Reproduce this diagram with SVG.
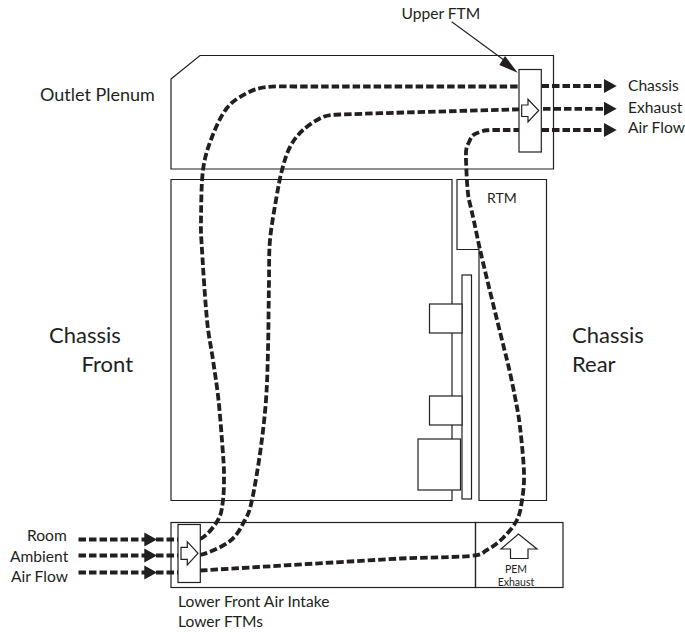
<svg xmlns="http://www.w3.org/2000/svg" width="685" height="632" viewBox="0 0 685 632">
<style>
.s{fill:none;stroke:#231f20;stroke-width:1.2}
.w{fill:#fff;stroke:#231f20;stroke-width:1.2}
.f{fill:none;stroke:#231f20;stroke-width:3.8;stroke-dasharray:7.500 3}
.h{fill:#231f20}
text{font-family:Lato,"Noto Sans",sans-serif;fill:#231f20;font-size:15.600px}
.b{font-size:22px}
.m{font-size:18px}
.r{font-size:14px}
.t{font-size:10.500px}
</style>
<rect width="685" height="632" fill="#fff"/>
<g id="outlet-plenum"><path class="s" d="M171 79L200 55.500H553.500V169H171Z"/><text class="m" x="40" y="101">Outlet Plenum</text></g>
<g id="chassis-front-box"><path class="s" d="M171 179.500H452V500.500H171Z"/></g>
<g id="rtm"><path class="s" d="M457 179.500H546.500V500.500H479V249.500H457Z"/><text class="r" x="487" y="203">RTM</text></g>
<g id="board"><rect class="s" x="462" y="275" width="9.500" height="224"/></g>
<g id="comp1"><rect class="w" x="429.500" y="304" width="32.500" height="29"/></g>
<g id="comp2"><rect class="w" x="429.500" y="396" width="32.500" height="29"/></g>
<g id="comp3"><rect class="w" x="418" y="439" width="42.500" height="51"/></g>
<g id="intake"><rect class="s" x="171" y="522.500" width="304.500" height="65"/></g>
<g id="pem"><rect class="s" x="475.500" y="522.500" width="87.500" height="65"/><path class="s" d="M501 549L518.500 534L537 549H528V558.500H510.500V549Z"/><text class="t" x="516" y="572.500" text-anchor="middle">PEM</text><text class="t" x="516" y="585.500" text-anchor="middle">Exhaust</text></g>
<g id="connectors">
<path class="f" d="M78.500 539.500H146M78.500 555.500H146M78.500 572.500H146"/>
<path class="f" d="M156 539.500H178M156 555.500H178M156 572.500H178"/>
<path class="h" d="M144.300 532.500L157 539.500L144.300 546.500ZM144.300 548.500L157 555.500L144.300 562.500ZM144.300 565.500L157 572.500L144.300 579.500Z"/>
<path class="f" d="M200 539C206 537 214.200 526.500 218 520S222 507.500 223 500S224 483.300 224 475S223.600 462.500 222.700 450S220.100 415 218.500 400S214.900 373.300 213 360S208.800 338.300 207 320S203 266.700 202 250S200.800 233.300 201 220S201.200 183.800 203 170S208 147.300 212 137S221.200 115.300 227 108S240.300 96.500 247 93S259 88 267 87S285 86.500 295 86.500H519"/>
<path class="f" d="M200 555C209 553 222.500 546.800 230 541S241.300 526.800 245 520S249.400 511.700 252 500S258.200 466.700 260.500 450S264.800 416.700 266 400S267.500 370 268 350S268.700 298.300 269 280S268.800 253.300 270 240S274 211.700 276 200S279.700 178.800 282 170S286.500 153.700 290 147S297.500 135 303 130S316.800 119.600 323 117S333 115 340 114.500L380 113.200L519 109.300"/>
<path class="f" d="M200 570.500L400 558.500C425 557.500 455.500 557.400 470 556S481.500 553 487 550S498 543 503 538S513.800 526.300 517 520S520.800 507.800 522 500S524.300 485.200 524 473S521.500 439.700 520 427S517.200 408.200 515 397S510 372 507 360C500 332 487 280 480 249.500C477.500 239 474.500 222 469 200C467.500 194 466.500 175 466 160S467.500 146 470 140S475 134 480 132S485 130.500 490 130H519"/>
<path class="f" d="M541.500 86H606M543 108.800H606M541.500 130H606"/>
<path class="h" d="M604 79L616.700 86L604 93ZM604 101.800L616.700 108.800L604 115.800ZM604 123L616.700 130L604 137Z"/>
<path fill="none" stroke="#231f20" stroke-width="1.100" d="M451.700 21.700L510 64.500"/>
<path class="h" d="M505 56L517.700 72.700L499.300 65Z"/>
</g>
<g id="upper-ftm"><rect class="w" x="519" y="69.500" width="22.300" height="82.500"/><path class="w" d="M521.700 105H528V99.300L538.700 110.500L528 122V116.500H521.700Z"/><text x="401.500" y="19">Upper FTM</text></g>
<g id="lower-ftm"><rect class="w" x="178" y="524.500" width="22.300" height="58"/><path class="w" d="M181 547.300H187.300V541.700L198 553.300L187.300 565V559.300H181Z"/></g>
<g id="labels">
<text x="628" y="90.700">Chassis</text><text x="628" y="112.500">Exhaust</text><text x="628" y="133.300">Air Flow</text>
<text x="27" y="540.700">Room</text><text x="10" y="561.700">Ambient</text><text x="11" y="581.700">Air Flow</text>
<text x="178" y="606.700">Lower Front Air Intake</text><text x="178" y="627.300">Lower FTMs</text>
<text class="b" x="49" y="342.500">Chassis</text><text class="b" x="81.500" y="371.700">Front</text>
<text class="b" x="572" y="342.500">Chassis</text><text class="b" x="572" y="371.700">Rear</text>
</g>
</svg>
